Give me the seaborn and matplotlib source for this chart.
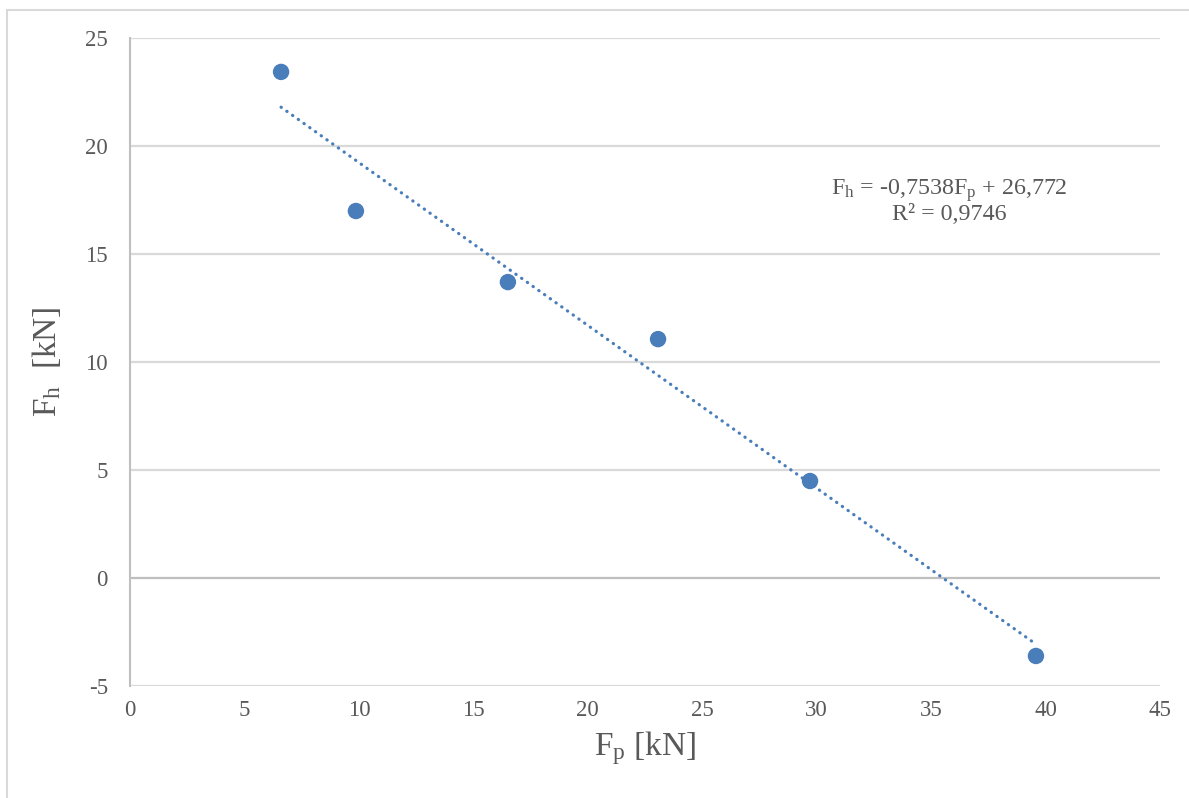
import numpy as np
import pandas as pd
import seaborn as sns
import matplotlib.pyplot as plt
from matplotlib.patches import Rectangle

# Values
fp = [6.6, 9.87, 16.51, 23.07, 29.71, 39.58]
fh = [23.43, 16.99, 13.70, 11.06, 4.49, -3.61]

# Linear trendline as reported on the chart
slope = -0.7538
intercept = 26.772
r2 = 0.9746

x_ticks = [0, 5, 10, 15, 20, 25, 30, 35, 40, 45]
y_ticks = [-5, 0, 5, 10, 15, 20, 25]

df = pd.DataFrame({'fp': fp, 'fh': fh})
trend = pd.DataFrame({'fp': [min(fp), max(fp)]})
trend['fh'] = intercept + slope * trend['fp']

sns.set_theme(style='white')
plt.rcParams['font.family'] = ['Liberation Serif', 'DejaVu Serif']
plt.rcParams['mathtext.fontset'] = 'custom'
plt.rcParams['mathtext.rm'] = 'Liberation Serif'
plt.rcParams['mathtext.it'] = 'Liberation Serif:italic'
plt.rcParams['axes.unicode_minus'] = False

text_col = '#595959'
blue = '#4a7ebb'

fig = plt.figure(figsize=(11.89, 7.98), dpi=100)
ax = fig.add_axes([130 / 1189, 1 - 686 / 798, 1030 / 1189, 648 / 798])

# light frame around the whole chart area
fig.patches.append(Rectangle((7 / 1189, -0.05), 1.1, 1.05 - 10 / 798,
                             transform=fig.transFigure, fill=False,
                             edgecolor='#d9d9d9', linewidth=1.5))

# horizontal grid
for yv in y_ticks:
    ax.axhline(yv, color='#bfbfbf' if yv == 0 else '#d9d9d9', linewidth=1.6, zorder=0)

sns.lineplot(data=trend, x='fp', y='fh', ax=ax, color=blue, linewidth=2.3,
             linestyle=(0, (0.1, 2.1)), dash_capstyle='round', zorder=2)
sns.scatterplot(data=df, x='fp', y='fh', ax=ax, color=blue, s=140,
                edgecolor='none', zorder=3)

ax.set_xlim(0, 45)
ax.set_ylim(-5, 25)
ax.set_xticks(x_ticks)
ax.set_yticks(y_ticks)
ax.tick_params(axis='both', length=0, labelsize=16.5, labelcolor=text_col)
ax.tick_params(axis='y', pad=16)
ax.tick_params(axis='x', pad=10)

for side in ['top', 'right', 'bottom']:
    ax.spines[side].set_visible(False)
ax.spines['left'].set_color('#bfbfbf')
ax.spines['left'].set_linewidth(1.5)

ax.set_xlabel(r'F$_\mathrm{p}$ [kN]', fontsize=24, color=text_col, labelpad=6)
ax.set_ylabel(r'F$_\mathrm{h}$  [kN]', fontsize=24, color=text_col, labelpad=16)

r2_txt = f'{r2:.4f}'.replace('.', ',')
ax.text(35.8, 17.45,
        'F$_\\mathrm{h}$ = -0,7538F$_\\mathrm{p}$ + 26,772\nR² = ' + r2_txt,
        ha='center', va='center', fontsize=17.3, color=text_col, linespacing=1.0)

fig.savefig('out.png', dpi=100)
